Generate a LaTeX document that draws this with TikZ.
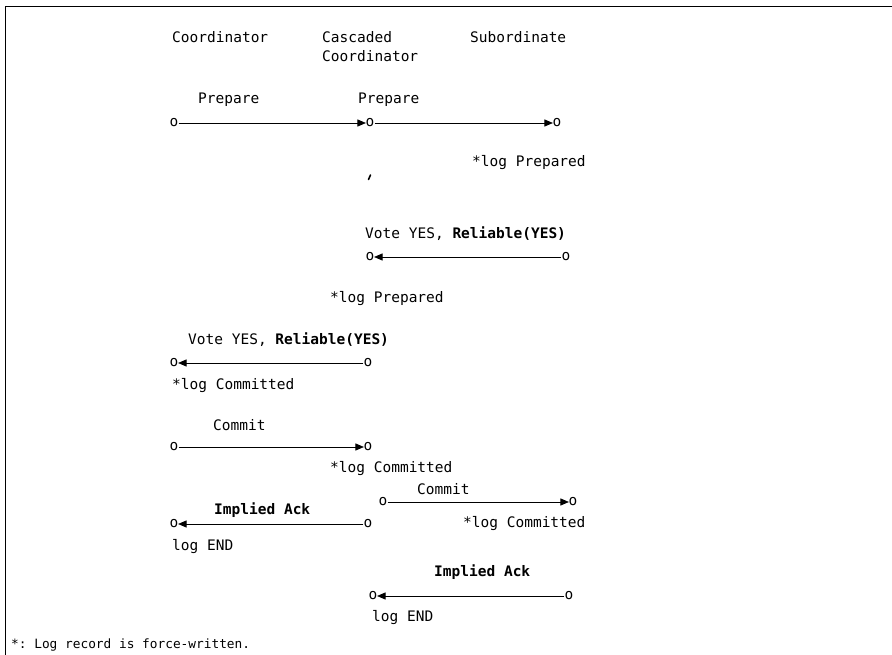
\documentclass[tikz,border=0pt]{standalone}
\usepackage{fontspec}
\setmonofont{DejaVu Sans Mono}
\usetikzlibrary{arrows.meta}
\begin{document}
\begin{tikzpicture}[x=1pt,y=-1pt,
  txt/.style={anchor=west,inner sep=0pt,font=\fontsize{14.5}{17}\selectfont\ttfamily},
  btxt/.style={txt,font=\fontsize{14.5}{17}\selectfont\ttfamily\bfseries},
  ftxt/.style={anchor=west,inner sep=0pt,font=\fontsize{12.8}{15}\selectfont\ttfamily},
  pt/.style={inner sep=0pt,font=\fontsize{14.5}{17}\selectfont\ttfamily},
  msg/.style={line width=0.8pt,-{Triangle[length=8.5pt,width=7pt]},shorten >=-0.5pt},
  frame/.style={line width=1pt}]
\useasboundingbox (0,0) rectangle (892,655);
% frame
\draw[frame] (892,7) -- (5,7) -- (5,655);
% column headings
\node[txt] (hc) at (172,37) {Coordinator};
\node[txt] (hcc1) at (322,37) {Cascaded};
\node[txt] (hcc2) at (322,56) {Coordinator};
\node[txt] (hs) at (470,37) {Subordinate};
% Prepare
\node[txt] (lp1) at (198,100) {Prepare};
\node[txt] (lp2) at (358,100) {Prepare};
\node[pt] (p1a) at (174,123) {o};
\node[pt] (p1b) at (370,123) {o};
\node[pt] (p1c) at (557,123) {o};
\draw[msg] (p1a) -- (p1b);
\draw[msg] (p1b) -- (p1c);
\node[txt] (sp) at (472,163) {*log Prepared};
\draw[line width=1.6pt,line cap=round] (368.5,179.5) -- (370.5,175);
% Vote from subordinate
\node[txt] (lv1) at (365,234) {Vote YES, \textbf{Reliable(YES)}};
\node[pt] (v1a) at (370,257) {o};
\node[pt] (v1b) at (566,257) {o};
\draw[msg] (v1b) -- (v1a);
\node[txt] (cp) at (330,299) {*log Prepared};
% Vote from cascaded coordinator
\node[txt] (lv2) at (188,340) {Vote YES, \textbf{Reliable(YES)}};
\node[pt] (v2a) at (174,363) {o};
\node[pt] (v2b) at (368,363) {o};
\draw[msg] (v2b) -- (v2a);
\node[txt] (cc) at (172,386) {*log Committed};
% Commit to cascaded coordinator
\node[txt] (lc1) at (213,425) {Commit};
\node[pt] (c1a) at (174,447) {o};
\node[pt] (c1b) at (368,447) {o};
\draw[msg] (c1a) -- (c1b);
\node[txt] (ccc) at (330,469) {*log Committed};
% Commit to subordinate
\node[txt] (lc2) at (417,489) {Commit};
\node[pt] (c2a) at (383,502) {o};
\node[pt] (c2b) at (573,502) {o};
\draw[msg] (c2a) -- (c2b);
\node[txt] (sc) at (463,524) {*log Committed};
% Implied Ack to coordinator
\node[btxt] (la1) at (214,510) {Implied Ack};
\node[pt] (a1a) at (174,524) {o};
\node[pt] (a1b) at (368,524) {o};
\draw[msg] (a1b) -- (a1a);
\node[txt] (ce) at (172,547) {log END};
% Implied Ack to cascaded coordinator
\node[btxt] (la2) at (434,572) {Implied Ack};
\node[pt] (a2a) at (373,596) {o};
\node[pt] (a2b) at (569,596) {o};
\draw[msg] (a2b) -- (a2a);
\node[txt] (cce) at (372,618) {log END};
% footnote
\node[ftxt] (fn) at (11,645) {*: Log record is force-written.};
\end{tikzpicture}
\end{document}
